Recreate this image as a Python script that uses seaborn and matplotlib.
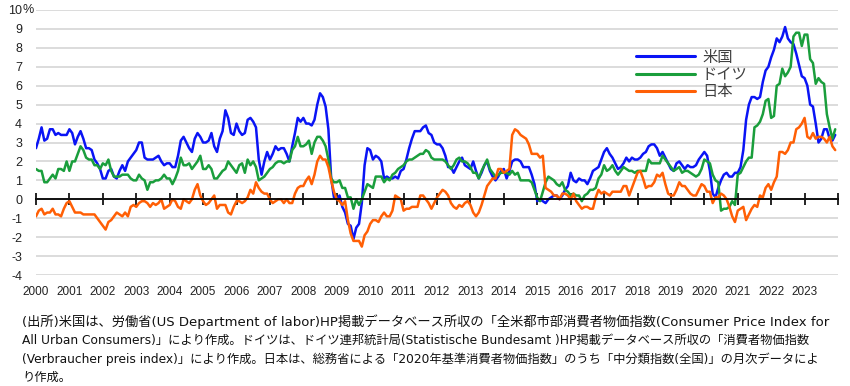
import numpy as np
import pandas as pd
import matplotlib
matplotlib.use("Agg")
import matplotlib.pyplot as plt
import matplotlib.transforms as mtransforms
import seaborn as sns

##############################################
### DATA: monthly CPI, y/y change (%) ########
### Jan 2000 - Dec 2023, one row per year ####
##############################################

us_cpi = [
    2.7, 3.2, 3.8, 3.1, 3.2, 3.7, 3.7, 3.4, 3.5, 3.4, 3.4, 3.4,
    3.7, 3.5, 2.9, 3.3, 3.6, 3.2, 2.7, 2.7, 2.6, 2.1, 1.9, 1.6,
    1.1, 1.1, 1.5, 1.6, 1.2, 1.1, 1.5, 1.8, 1.5, 2.0, 2.2, 2.4,
    2.6, 3.0, 3.0, 2.2, 2.1, 2.1, 2.1, 2.2, 2.3, 2.0, 1.8, 1.9,
    1.9, 1.7, 1.7, 2.3, 3.1, 3.3, 3.0, 2.7, 2.5, 3.2, 3.5, 3.3,
    3.0, 3.0, 3.1, 3.5, 2.8, 2.5, 3.2, 3.6, 4.7, 4.3, 3.5, 3.4,
    4.0, 3.6, 3.4, 3.5, 4.2, 4.3, 4.1, 3.8, 2.1, 1.3, 2.0, 2.5,
    2.1, 2.4, 2.8, 2.6, 2.7, 2.7, 2.4, 2.0, 2.8, 3.5, 4.3, 4.1,
    4.3, 4.0, 4.0, 3.9, 4.2, 5.0, 5.6, 5.4, 4.9, 3.7, 1.1, 0.1,
    0.0, 0.2, -0.4, -0.7, -1.3, -1.4, -2.1, -1.5, -1.3, -0.2, 1.8, 2.7,
    2.6, 2.1, 2.3, 2.2, 2.0, 1.1, 1.2, 1.1, 1.1, 1.2, 1.1, 1.5,
    1.6, 2.1, 2.7, 3.2, 3.6, 3.6, 3.6, 3.8, 3.9, 3.5, 3.4, 3.0,
    2.9, 2.9, 2.7, 2.3, 1.7, 1.7, 1.4, 1.7, 2.0, 2.2, 1.8, 1.7,
    1.6, 2.0, 1.5, 1.1, 1.4, 1.8, 2.0, 1.5, 1.2, 1.0, 1.2, 1.5,
    1.6, 1.1, 1.5, 2.0, 2.1, 2.1, 2.0, 1.7, 1.7, 1.7, 1.3, 0.8,
    -0.1, 0.0, -0.1, -0.2, 0.0, 0.1, 0.2, 0.2, 0.0, 0.2, 0.5, 0.7,
    1.4, 1.0, 0.9, 1.1, 1.0, 1.0, 0.8, 1.1, 1.5, 1.6, 1.7, 2.1,
    2.5, 2.7, 2.4, 2.2, 1.9, 1.6, 1.7, 1.9, 2.2, 2.0, 2.2, 2.1,
    2.1, 2.2, 2.4, 2.5, 2.8, 2.9, 2.9, 2.7, 2.3, 2.5, 2.2, 1.9,
    1.6, 1.5, 1.9, 2.0, 1.8, 1.6, 1.8, 1.7, 1.7, 1.8, 2.1, 2.3,
    2.5, 2.3, 1.5, 0.3, 0.1, 0.6, 1.0, 1.3, 1.4, 1.2, 1.2, 1.4,
    1.4, 1.7, 2.6, 4.2, 5.0, 5.4, 5.4, 5.3, 5.4, 6.2, 6.8, 7.0,
    7.5, 7.9, 8.5, 8.3, 8.6, 9.1, 8.5, 8.3, 8.2, 7.7, 7.1, 6.5,
    6.4, 6.0, 5.0, 4.9, 4.0, 3.0, 3.2, 3.7, 3.7, 3.2, 3.1, 3.4,
]

de_cpi = [
    1.6, 1.5, 1.5, 0.9, 0.9, 1.1, 1.3, 1.1, 1.6, 1.6, 1.5, 2.0,
    1.5, 2.0, 2.0, 2.4, 2.8, 2.6, 2.2, 2.1, 2.1, 1.8, 1.8, 1.6,
    1.9, 1.8, 2.1, 1.5, 1.2, 1.2, 1.2, 1.3, 1.3, 1.3, 1.1, 1.0,
    1.0, 1.3, 1.1, 1.0, 0.5, 0.9, 0.9, 1.0, 1.0, 1.1, 1.3, 1.1,
    1.1, 0.8, 1.1, 1.5, 2.2, 1.8, 1.8, 1.9, 1.6, 1.8, 2.0, 2.3,
    1.6, 1.6, 1.8, 1.6, 1.1, 1.1, 1.3, 1.5, 1.6, 2.0, 1.8, 1.6,
    1.4, 1.8, 1.9, 1.4, 2.1, 1.8, 2.0, 1.7, 1.0, 1.1, 1.2, 1.4,
    1.6, 1.7, 1.9, 2.0, 2.0, 1.9, 2.0, 2.0, 2.6, 2.8, 3.3, 2.8,
    2.8, 2.9, 3.1, 2.4, 3.0, 3.3, 3.3, 3.1, 2.8, 2.1, 1.1, 0.9,
    0.9, 1.0, 0.6, 0.6, 0.1, 0.1, -0.5, 0.0, -0.3, 0.0, 0.4, 0.8,
    0.7, 0.6, 1.2, 1.2, 1.2, 0.9, 1.1, 1.0, 1.3, 1.4, 1.6, 1.7,
    1.8, 2.0, 2.1, 2.1, 2.2, 2.3, 2.4, 2.4, 2.6, 2.5, 2.2, 2.1,
    2.1, 2.1, 2.1, 2.0, 1.8, 1.6, 1.8, 2.1, 2.2, 2.0, 2.0, 1.9,
    1.7, 1.4, 1.4, 1.1, 1.5, 1.8, 2.1, 1.6, 1.4, 1.2, 1.3, 1.4,
    1.4, 1.4, 1.3, 1.5, 1.3, 1.4, 1.0, 1.0, 1.0, 1.0, 0.9, 0.5,
    0.1, -0.1, 0.4, 0.9, 1.2, 1.1, 1.0, 0.8, 0.7, 0.9, 0.5, 0.4,
    0.2, 0.3, 0.2, 0.2, -0.1, 0.2, 0.3, 0.5, 0.5, 0.6, 1.1, 1.3,
    1.8, 1.5, 1.6, 1.8, 1.5, 1.3, 1.5, 1.7, 1.6, 1.5, 1.5, 1.4,
    1.5, 1.5, 1.5, 1.5, 2.1, 1.9, 1.9, 1.9, 1.9, 2.3, 2.1, 1.9,
    1.7, 1.5, 1.6, 1.7, 1.4, 1.5, 1.5, 1.4, 1.3, 1.2, 1.3, 1.6,
    2.1, 2.0, 1.9, 1.3, 1.0, 0.9, -0.6, -0.5, -0.5, -0.4, -0.1, -0.3,
    1.3, 1.4, 1.7, 2.0, 2.2, 2.2, 3.8, 3.9, 4.1, 4.5, 5.2, 5.3,
    4.3, 4.4, 6.0, 6.1, 6.9, 6.5, 6.7, 7.0, 8.6, 8.8, 8.8, 8.1,
    8.7, 8.7, 7.4, 7.2, 6.1, 6.4, 6.2, 6.1, 4.5, 3.8, 3.2, 3.7,
]

jp_cpi = [
    -0.9, -0.6, -0.5, -0.8, -0.7, -0.7, -0.5, -0.8, -0.8, -0.9, -0.5, -0.2,
    -0.1, -0.4, -0.7, -0.7, -0.7, -0.8, -0.8, -0.8, -0.8, -0.8, -1.0, -1.2,
    -1.4, -1.6, -1.2, -1.1, -0.9, -0.7, -0.8, -0.9, -0.7, -0.9, -0.4, -0.3,
    -0.4, -0.2, -0.1, -0.1, -0.2, -0.4, -0.2, -0.3, -0.2, 0.0, -0.5, -0.4,
    -0.3, 0.0, -0.1, -0.4, -0.5, 0.0, -0.1, -0.2, 0.0, 0.5, 0.8, 0.2,
    -0.1, -0.3, -0.2, 0.0, 0.2, -0.5, -0.3, -0.3, -0.3, -0.7, -0.8, -0.4,
    -0.1, -0.1, -0.2, -0.1, 0.1, 0.5, 0.3, 0.9, 0.6, 0.4, 0.3, 0.3,
    0.0, -0.2, -0.1, 0.0, 0.0, -0.2, 0.0, -0.2, -0.2, 0.3, 0.6, 0.7,
    0.7, 1.0, 1.2, 0.8, 1.3, 2.0, 2.3, 2.1, 2.1, 1.7, 1.0, 0.4,
    0.0, -0.1, -0.3, -0.1, -1.1, -1.8, -2.2, -2.2, -2.2, -2.5, -1.9, -1.7,
    -1.3, -1.1, -1.1, -1.2, -0.9, -0.7, -0.9, -0.9, -0.6, 0.2, 0.1, 0.0,
    -0.6, -0.5, -0.5, -0.4, -0.4, -0.4, 0.2, 0.2, 0.0, -0.2, -0.5, -0.2,
    0.1, 0.3, 0.5, 0.4, 0.2, -0.2, -0.4, -0.5, -0.3, -0.4, -0.2, -0.1,
    -0.3, -0.7, -0.9, -0.7, -0.3, 0.2, 0.7, 0.9, 1.1, 1.1, 1.6, 1.6,
    1.4, 1.5, 1.6, 3.4, 3.7, 3.6, 3.4, 3.3, 3.2, 2.9, 2.4, 2.4,
    2.4, 2.2, 2.3, 0.6, 0.5, 0.4, 0.2, 0.2, 0.0, 0.3, 0.3, 0.2,
    0.0, 0.3, -0.1, -0.3, -0.5, -0.4, -0.4, -0.5, -0.5, 0.1, 0.5, 0.3,
    0.4, 0.3, 0.2, 0.4, 0.4, 0.4, 0.4, 0.7, 0.7, 0.2, 0.6, 1.0,
    1.4, 1.5, 1.1, 0.6, 0.7, 0.7, 0.9, 1.3, 1.2, 1.4, 0.8, 0.3,
    0.2, 0.2, 0.5, 0.9, 0.7, 0.7, 0.5, 0.3, 0.2, 0.2, 0.5, 0.8,
    0.7, 0.4, 0.4, -0.2, 0.1, 0.1, 0.3, 0.2, 0.0, -0.4, -0.9, -1.2,
    -0.6, -0.5, -0.4, -1.1, -0.8, -0.5, -0.3, -0.4, 0.2, 0.1, 0.6, 0.8,
    0.5, 0.9, 1.2, 2.5, 2.5, 2.4, 2.6, 3.0, 3.0, 3.7, 3.8, 4.0,
    4.3, 3.3, 3.2, 3.5, 3.2, 3.3, 3.3, 3.2, 3.0, 3.3, 2.8, 2.6,
]

countries = ["米国", "ドイツ", "日本"]
colors = ["#0a14f5", "#1a9e3c", "#ff5f05"]
years = list(range(2000, 2025))
y_ticks = list(range(-4, 11))

note_lines = [
    "(出所)米国は、労働省(US Department of labor)HP掲載データベース所収の「全米都市部消費者物価指数(Consumer Price Index for",
    "All Urban Consumers)」により作成。ドイツは、ドイツ連邦統計局(Statistische Bundesamt )HP掲載データベース所収の「消費者物価指数",
    "(Verbraucher preis index)」により作成。日本は、総務省による「2020年基準消費者物価指数」のうち「中分類指数(全国)」の月次データによ",
    "り作成。",
]
note_sizes = [9.55, 8.85, 8.85, 8.85]

##############################################
### BUILD LONG TABLE #########################
##############################################

t = 2000 + np.arange(len(us_cpi)) / 12
df = pd.DataFrame({"t": t, "米国": us_cpi, "ドイツ": de_cpi, "日本": jp_cpi})
df = df.melt(id_vars="t", var_name="country", value_name="cpi")

##############################################
### PLOT #####################################
##############################################

sns.set_theme(style="white")
plt.rcParams["font.family"] = ["Liberation Sans", "Noto Sans CJK JP"]

fig = plt.figure(figsize=(8.5, 3.86), dpi=100)
ax = fig.add_axes([36 / 850, 1 - 275 / 386, 802 / 850, 265 / 386])

sns.lineplot(data=df, x="t", y="cpi", hue="country", hue_order=countries,
             palette=dict(zip(countries, colors)), linewidth=1.8, ax=ax)

ax.set_xlim(2000, 2024)
ax.set_ylim(-4, 10)
ax.set_xlabel("")
ax.set_ylabel("")

# horizontal grid
ax.set_yticks(y_ticks)
ax.set_yticklabels([str(v) for v in y_ticks])
ax.grid(axis="y", color="#d6d6d6", linewidth=1.2)
ax.grid(axis="x", visible=False)
ax.set_axisbelow(True)
ax.tick_params(axis="y", length=0, pad=10, labelsize=9, labelcolor="#222222")
ax.text(-0.0168, 10, "%", transform=mtransforms.blended_transform_factory(ax.transAxes, ax.transData),
        ha="left", va="center", fontsize=9, color="#222222")

# zero line with year ticks
for s in ["left", "right", "top"]:
    ax.spines[s].set_visible(False)
ax.spines["bottom"].set_position(("data", 0))
ax.spines["bottom"].set_color("black")
ax.spines["bottom"].set_linewidth(1.3)
ax.set_xticks(years)
ax.tick_params(axis="x", direction="inout", length=8, width=1.2, color="black",
               bottom=True, labelbottom=False)

# year labels below the plot area
sec = ax.secondary_xaxis("bottom")
sec.set_xticks(years[:-1])
sec.set_xticklabels([str(y) for y in years[:-1]])
sec.tick_params(length=0, pad=8, labelsize=8.5, labelcolor="#222222")
sec.spines["bottom"].set_visible(False)

# legend
handles, labels = ax.get_legend_handles_labels()
ax.legend(handles, labels, loc="upper left", bbox_to_anchor=(0.738, 0.875),
          frameon=False, fontsize=11, handlelength=3.9, handletextpad=0.45,
          labelspacing=0.22, borderpad=0, labelcolor="#404040")
for line in ax.get_legend().get_lines():
    line.set_linewidth(2.2)

# source note
for i, line in enumerate(note_lines):
    fig.text(22 / 850, 1 - (322 + 18.5 * i) / 386, line, ha="left", va="center",
             fontsize=note_sizes[i], color="#111111", family=["DejaVu Sans", "Noto Sans CJK JP"])

fig.savefig("out.png", dpi=100)
